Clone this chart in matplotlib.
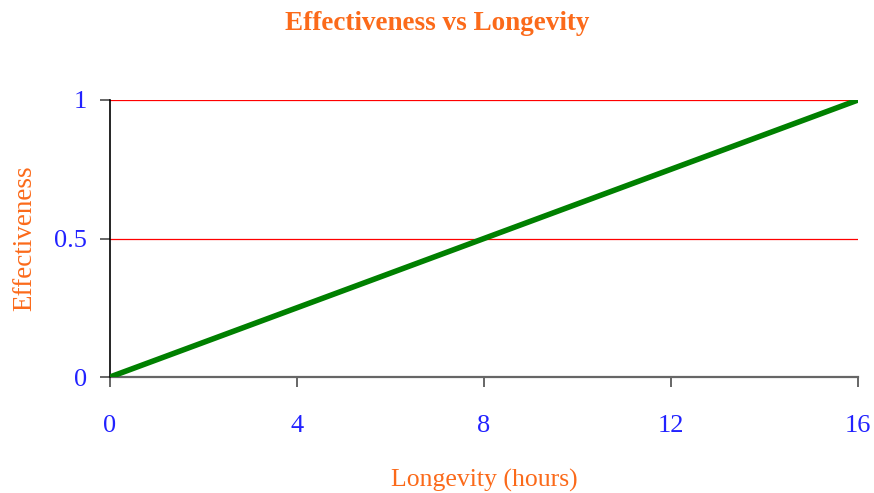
import matplotlib
matplotlib.use("Agg")
import matplotlib.pyplot as plt

longevity = [0, 16]
effectiveness = [0, 1]
x_ticks = [0, 4, 8, 12, 16]
y_ticks = [0, 0.5, 1]
y_tick_labels = ["0", "0.5", "1"]

plt.rcParams['font.family'] = ['Liberation Serif', 'DejaVu Serif']

ORANGE = '#fb6a1a'
BLUE = '#2222ff'

fig = plt.figure(figsize=(8.74, 4.93), dpi=100)
ax = fig.add_axes([110/874, 1-377/493, (858-110)/874, (377-100)/493])

for y in [0.5, 1]:
    ax.axhline(y, color='#ff0000', lw=0.9, zorder=1)
ax.plot(longevity, effectiveness, color='#008000', lw=4, solid_capstyle='butt', zorder=3)

ax.set_xlim(0, 16)
ax.set_ylim(0, 1)
ax.set_xticks(x_ticks)
ax.set_xticklabels([str(t) for t in x_ticks])
ax.set_yticks(y_ticks)
ax.set_yticklabels(y_tick_labels)

for s in ['top', 'right']:
    ax.spines[s].set_visible(False)
ax.spines['left'].set_color('black')
ax.spines['left'].set_linewidth(1.2)
ax.spines['bottom'].set_color('#666666')
ax.spines['bottom'].set_linewidth(1.6)
ax.spines['bottom'].set_zorder(2)

ax.tick_params(axis='x', direction='out', length=7.5, width=1.4, color='#666666',
               labelcolor=BLUE, labelsize=19, pad=20)
ax.tick_params(axis='y', direction='out', length=7.5, width=1.4, color='#666666',
               labelcolor=BLUE, labelsize=19, pad=9)

ax.set_xlabel('Longevity (hours)', color=ORANGE, fontsize=18.5, labelpad=23)
ax.set_ylabel('Effectiveness', color=ORANGE, fontsize=19.5, labelpad=12)
fig.suptitle('Effectiveness vs Longevity', color=ORANGE, fontsize=19.5,
             fontweight='bold', y=0.978, va='top')

fig.savefig('out.png', dpi=100)
